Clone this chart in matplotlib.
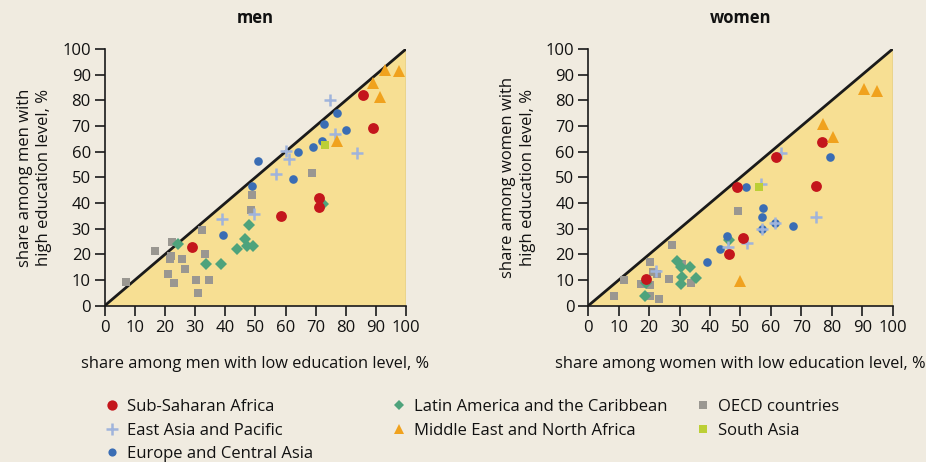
import matplotlib
matplotlib.use("Agg")
import matplotlib.pyplot as plt
from matplotlib.lines import Line2D

plt.rcParams['font.family'] = ['Open Sans', 'DejaVu Sans']

# ---------------- data: (low education share, high education share) ----------------
men_ssa_x = [85.8, 88.9, 71.1, 71.2, 58.6, 29.0]
men_ssa_y = [81.9, 69.2, 41.9, 38.6, 34.9, 22.9]
men_eap_x = [74.8, 76.5, 83.6, 60.2, 61.2, 56.9, 49.7, 38.9]
men_eap_y = [80.0, 66.8, 59.4, 60.3, 57.1, 51.2, 35.8, 33.8]
men_eca_x = [77.2, 80.0, 72.8, 72.2, 69.0, 64.2, 51.0, 62.6, 48.8, 39.3]
men_eca_y = [75.1, 68.6, 70.8, 64.3, 61.9, 59.7, 56.2, 49.2, 46.8, 27.5]
men_mena_x = [93.0, 97.8, 88.9, 91.4, 77.1]
men_mena_y = [91.7, 91.4, 86.6, 81.4, 64.3]
men_sa_x = [73.0]
men_sa_y = [62.7]
men_lac_x = [72.3, 47.8, 46.5, 47.2, 49.2, 43.9, 24.3, 33.6, 38.6]
men_lac_y = [39.7, 31.4, 25.8, 23.1, 23.1, 22.1, 24.2, 16.1, 16.1]
men_oecd_x = [68.8, 48.8, 48.5, 32.4, 22.3, 16.8, 22.0, 21.6, 33.3, 25.7, 26.5, 20.9, 23.0, 7.1, 30.3, 34.6, 30.9]
men_oecd_y = [51.7, 43.2, 37.1, 29.6, 24.9, 21.2, 19.5, 18.3, 20.1, 18.1, 14.3, 12.5, 9.0, 9.1, 10.1, 10.0, 4.9]

women_ssa_x = [76.9, 61.6, 48.9, 74.7, 50.9, 46.2, 19.1]
women_ssa_y = [63.6, 57.9, 46.2, 46.8, 26.4, 20.0, 10.3]
women_eap_x = [63.2, 56.6, 74.9, 61.3, 57.0, 52.1, 46.0, 22.1]
women_eap_y = [59.5, 47.5, 34.7, 32.1, 29.9, 24.5, 22.7, 13.6]
women_eca_x = [79.4, 51.9, 57.4, 57.1, 61.3, 57.0, 67.3, 45.7, 43.4, 39.0]
women_eca_y = [57.8, 46.4, 38.1, 34.5, 32.1, 29.9, 30.9, 27.3, 21.9, 17.1]
women_mena_x = [90.7, 94.9, 77.2, 80.3, 49.8]
women_mena_y = [84.4, 83.5, 70.9, 65.7, 9.7]
women_sa_x = [56.1]
women_sa_y = [46.1]
women_lac_x = [46.1, 29.0, 30.3, 33.4, 35.4, 30.9, 30.3, 19.1, 18.7]
women_lac_y = [25.6, 17.3, 14.9, 15.2, 10.9, 11.0, 8.4, 8.8, 3.9]
women_oecd_x = [49.3, 27.6, 20.4, 30.8, 21.1, 22.7, 11.6, 17.3, 20.3, 26.6, 33.7, 8.5, 20.3, 23.2]
women_oecd_y = [36.8, 23.5, 16.9, 16.2, 13.0, 12.3, 10.1, 8.4, 8.1, 10.3, 8.7, 3.6, 3.6, 2.5]

region_names = ["Sub-Saharan Africa", "East Asia and Pacific", "Europe and Central Asia",
                "Latin America and the Caribbean", "Middle East and North Africa",
                "OECD countries", "South Asia"]
axis_ticks = [0, 10, 20, 30, 40, 50, 60, 70, 80, 90, 100]

# ---------------- styles ----------------
BG = "#f0ebe0"
FILL = "#f7df93"
DARK = "#1a1a1a"
TXT = "#111111"
styles = {
    "Sub-Saharan Africa": dict(marker="o", color="#c4161c", ms=7.8, mew=0),
    "East Asia and Pacific": dict(marker="+", color="#a0b4dc", ms=9, mew=1.8),
    "Europe and Central Asia": dict(marker="o", color="#3a6db4", ms=6.2, mew=0),
    "Latin America and the Caribbean": dict(marker="D", color="#4ea37c", ms=5.8, mew=0),
    "Middle East and North Africa": dict(marker="^", color="#f0a21e", ms=8, mew=0),
    "OECD countries": dict(marker="s", color="#9a9791", ms=6.2, mew=0),
    "South Asia": dict(marker="s", color="#bccf35", ms=6.2, mew=0),
}

fig = plt.figure(figsize=(9.26, 4.62), dpi=100, facecolor=BG)

panels = [
    ("men", [0.1131, 0.3383, 0.3254, 0.5556],
     [(men_ssa_x, men_ssa_y), (men_eap_x, men_eap_y), (men_eca_x, men_eca_y),
      (men_lac_x, men_lac_y), (men_mena_x, men_mena_y), (men_oecd_x, men_oecd_y),
      (men_sa_x, men_sa_y)]),
    ("women", [0.6353, 0.3383, 0.3287, 0.5556],
     [(women_ssa_x, women_ssa_y), (women_eap_x, women_eap_y), (women_eca_x, women_eca_y),
      (women_lac_x, women_lac_y), (women_mena_x, women_mena_y), (women_oecd_x, women_oecd_y),
      (women_sa_x, women_sa_y)]),
]

draw_order = [5, 3, 2, 1, 0, 4, 6]

for title, pos, series in panels:
    ax = fig.add_axes(pos)
    ax.set_facecolor(BG)
    ax.set_xlim(0, 100)
    ax.set_ylim(0, 100)
    ax.fill([0, 100, 100], [0, 0, 100], color=FILL, zorder=0, lw=0)
    ax.plot([0, 100], [0, 100], color=DARK, lw=2.0, zorder=1, solid_capstyle="butt")
    ax.plot([100, 100], [0, 100], color=DARK, lw=0.8, zorder=1)
    for i in draw_order:
        xs, ys = series[i]
        st = styles[region_names[i]]
        ax.plot(xs, ys, linestyle="none", marker=st["marker"], color=st["color"],
                markersize=st["ms"], markeredgewidth=st["mew"], zorder=3)
    for s in ["top", "right"]:
        ax.spines[s].set_visible(False)
    for s in ["left", "bottom"]:
        ax.spines[s].set_color(DARK)
        ax.spines[s].set_linewidth(1.2)
    ax.set_xticks(axis_ticks)
    ax.set_yticks(axis_ticks)
    ax.tick_params(axis="both", direction="out", length=7, width=1.2, color=DARK,
                   labelsize=12, labelcolor=TXT, pad=3)
    ax.set_title(title, fontsize=12, fontweight="bold", pad=19, color=TXT)
    ax.set_xlabel("share among %s with low education level, %%" % title, fontsize=11.8,
                  labelpad=15, color=TXT)
    ax.set_ylabel("share among %s with\nhigh education level, %%" % title, fontsize=12,
                  labelpad=7, color=TXT, linespacing=1.3)

# ---------------- legend (three columns) ----------------
def handle(name):
    st = styles[name]
    return Line2D([], [], linestyle="none", marker=st["marker"], color=st["color"],
                  markersize=st["ms"] * 0.95, markeredgewidth=st["mew"])

columns = [([0, 1, 2], 0.114), ([3, 4], 0.424), ([5, 6], 0.752)]
for idx, xpos in columns:
    fig.legend([handle(region_names[i]) for i in idx], [region_names[i] for i in idx],
               loc="upper left", bbox_to_anchor=(xpos, 0.136), bbox_transform=fig.transFigure,
               frameon=False, fontsize=12, handlelength=0.8, handletextpad=0.5,
               labelspacing=0.45, borderpad=0, borderaxespad=0, labelcolor=TXT)

fig.savefig("out.png", dpi=100, facecolor=BG)
